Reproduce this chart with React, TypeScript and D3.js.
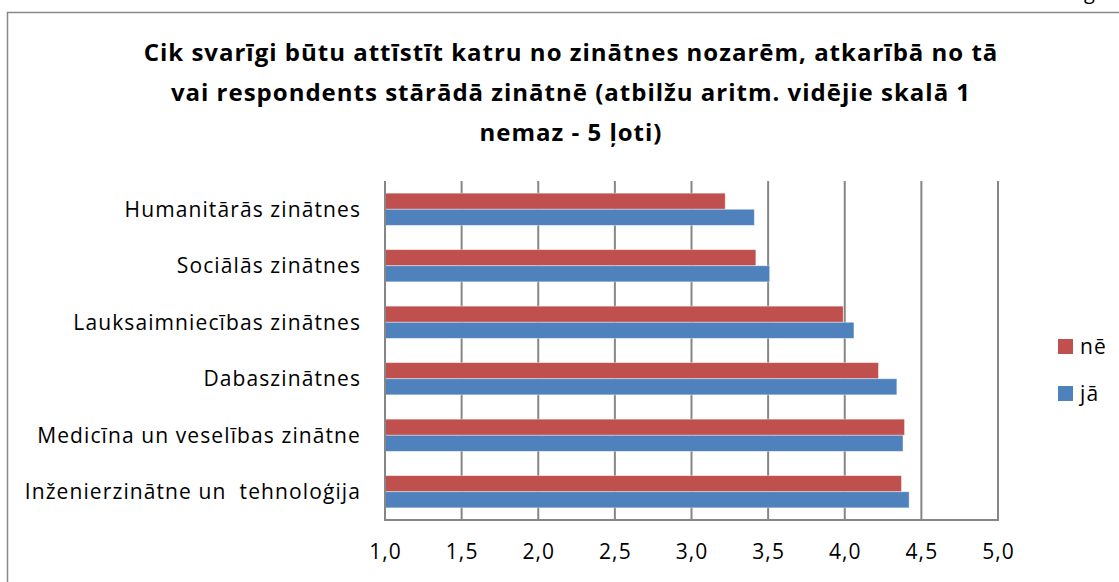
import React, { useRef, useEffect } from 'react';
import * as d3 from 'd3';

// Categories from top to bottom, as in the picture.
const categories = [
  'Humanitārās zinātnes',
  'Sociālās zinātnes',
  'Lauksaimniecības zinātnes',
  'Dabaszinātnes',
  'Medicīna un veselības zinātne',
  'Inženierzinātne un  tehnoloģija',
];
const neValues = [3.22, 3.42, 3.99, 4.22, 4.39, 4.37];
const jaValues = [3.41, 3.51, 4.06, 4.34, 4.38, 4.42];
const seriesNames = ['nē', 'jā'];
const seriesColors = ['#C0504D', '#4F81BD'];
const xTicks = [1.0, 1.5, 2.0, 2.5, 3.0, 3.5, 4.0, 4.5, 5.0];
const titleLines = [
  'Cik svarīgi būtu attīstīt katru no zinātnes nozarēm, atkarībā no tā',
  'vai respondents stārādā zinātnē (atbilžu aritm. vidējie skalā 1',
  'nemaz - 5 ļoti)',
];

const FONT = '"Open Sans", Lato, sans-serif';

const App = () => {
  const ref = useRef<SVGSVGElement>(null);

  useEffect(() => {
    const svg = d3.select(ref.current);
    svg.selectAll('*').remove();

    const width = 1119;
    const height = 582;
    const plot = { left: 385, right: 998, top: 181, bottom: 520 };

    svg.attr('width', width).attr('height', height);

    // outer chart frame (runs past the window on the right and bottom)
    svg.append('rect')
      .attr('x', 7.5).attr('y', 12.5)
      .attr('width', 1200).attr('height', 700)
      .attr('fill', '#fff')
      .attr('stroke', '#888').attr('stroke-width', 1.5);

    // cut-off text from above the frame
    svg.append('text')
      .attr('x', 1084).attr('y', -1)
      .attr('font-family', FONT).attr('font-size', 20)
      .text('g');

    // title
    svg.append('g')
      .selectAll('text')
      .data(titleLines)
      .join('text')
      .attr('x', 571)
      .attr('y', (d, i) => 61 + i * 40)
      .attr('text-anchor', 'middle')
      .attr('font-family', FONT)
      .attr('font-weight', 'bold')
      .attr('font-size', 24)
      .attr('letter-spacing', 1)
      .attr('fill', '#000')
      .text(d => d);

    const x = d3.scaleLinear().domain([1, 5]).range([plot.left, plot.right]);
    const y = d3.scaleBand().domain(categories).range([plot.top, plot.bottom]).paddingInner(0.43).paddingOuter(0.215);
    const inner = d3.scaleBand().domain(seriesNames).range([0, y.bandwidth()]);

    // gridlines
    svg.append('g')
      .selectAll('line')
      .data(xTicks.slice(1))
      .join('line')
      .attr('x1', d => x(d)).attr('x2', d => x(d))
      .attr('y1', plot.top).attr('y2', plot.bottom)
      .attr('stroke', '#868686').attr('stroke-width', 2);

    // bars
    const rows = categories.map((c, i) => ({ c, vals: [neValues[i], jaValues[i]] }));
    const groups = svg.append('g')
      .selectAll('g')
      .data(rows)
      .join('g')
      .attr('transform', d => `translate(0,${y(d.c)})`);

    groups.selectAll('rect')
      .data(d => d.vals.map((v, j) => ({ v, s: seriesNames[j], color: seriesColors[j] })))
      .join('rect')
      .attr('x', x(1))
      .attr('y', d => inner(d.s)!)
      .attr('width', d => x(d.v) - x(1))
      .attr('height', inner.bandwidth())
      .attr('fill', d => d.color)
      .attr('stroke', 'rgba(255,255,255,0.5)')
      .attr('stroke-width', 0.8);

    // axes lines
    svg.append('line')
      .attr('x1', plot.left).attr('x2', plot.left)
      .attr('y1', plot.top).attr('y2', plot.bottom)
      .attr('stroke', '#868686').attr('stroke-width', 2);
    svg.append('line')
      .attr('x1', plot.left - 1).attr('x2', plot.right + 1)
      .attr('y1', plot.bottom).attr('y2', plot.bottom)
      .attr('stroke', '#868686').attr('stroke-width', 2);

    // category labels
    svg.append('g')
      .selectAll('text')
      .data(categories)
      .join('text')
      .attr('x', 361)
      .attr('y', d => y(d)! + y.bandwidth() / 2)
      .attr('dy', '0.35em')
      .attr('text-anchor', 'end')
      .attr('font-family', FONT)
      .attr('font-size', 21)
      .attr('letter-spacing', 1.1)
      .attr('fill', '#000')
      .style('white-space', 'pre')
      .text(d => d);

    // tick labels
    const fmt = (v: number) => v.toFixed(1).replace('.', ',');
    svg.append('g')
      .selectAll('text')
      .data(xTicks)
      .join('text')
      .attr('x', d => x(d) + 0.5)
      .attr('y', 552)
      .attr('dy', '0.35em')
      .attr('text-anchor', 'middle')
      .attr('font-family', FONT)
      .attr('font-size', 21)
      .attr('letter-spacing', 1.1)
      .attr('fill', '#000')
      .text(d => fmt(d));

    // legend
    const legend = svg.append('g')
      .selectAll('g')
      .data(seriesNames)
      .join('g')
      .attr('transform', (d, i) => `translate(1058,${339 + i * 47})`);
    legend.append('rect')
      .attr('width', 15).attr('height', 15)
      .attr('fill', (d, i) => seriesColors[i]);
    legend.append('text')
      .attr('x', 22).attr('y', 8)
      .attr('dy', '0.35em')
      .attr('font-family', FONT)
      .attr('font-size', 21)
      .attr('letter-spacing', 1.1)
      .text(d => d);
  }, []);

  return <svg ref={ref} style={{ position: 'absolute', left: 0, top: 0 }}></svg>;
};

export default App;
